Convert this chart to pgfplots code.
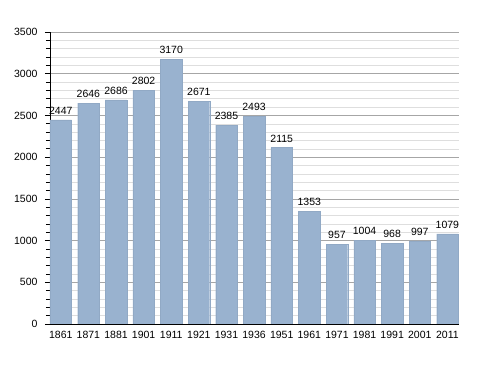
\documentclass[border=0pt]{standalone}
\usepackage{fontspec}
\setmainfont{Liberation Sans}
\usepackage{pgfplots}
\pgfplotsset{compat=1.18}
\definecolor{barcol}{HTML}{99B2CF}
\begin{document}
\begin{tikzpicture}
\begin{axis}[
  name=ax,
  scale only axis,
  width=409pt, height=292pt,
  xmin=-0.39, xmax=14.42,
  ymin=0, ymax=3500,
  ytick distance=500,
  minor y tick num=4,
  xtick=data,
  xticklabels={1861,1871,1881,1901,1911,1921,1931,1936,1951,1961,1971,1981,1991,2001,2011},
  x tick style={draw=none},
  axis lines=left,
  axis line style={-, black},
  tick align=outside,
  major tick length=5pt,
  minor tick length=4pt,
  y tick style={black, line width=0.6pt},
  ymajorgrids, yminorgrids,
  major grid style={color=black!35, line width=0.6pt},
  minor grid style={color=black!13, line width=0.5pt},
  tick label style={font=\fontsize{10.5}{12}\selectfont},
  /pgf/number format/assume math mode=true,
  scaled y ticks=false,
  yticklabel style={/pgf/number format/1000 sep={}, xshift=-4pt},
  xticklabel style={yshift=1pt},
  nodes near coords,
  nodes near coords style={font=\fontsize{10.5}{12}\selectfont, black, yshift=2pt, /pgf/number format/1000 sep={}},
  every axis plot/.append style={bar width=0.78, fill=barcol, draw=barcol!95!black, line width=0.2pt},
]
\addplot[ybar] coordinates {
(0,2447) (1,2646) (2,2686) (3,2802) (4,3170) (5,2671) (6,2385) (7,2493) (8,2115) (9,1353) (10,957) (11,1004) (12,968) (13,997) (14,1079)
};
\end{axis}
\path ([shift={(-50pt,-49pt)}]ax.south west) rectangle ([shift={(29pt,32pt)}]ax.north east);
\end{tikzpicture}
\end{document}
